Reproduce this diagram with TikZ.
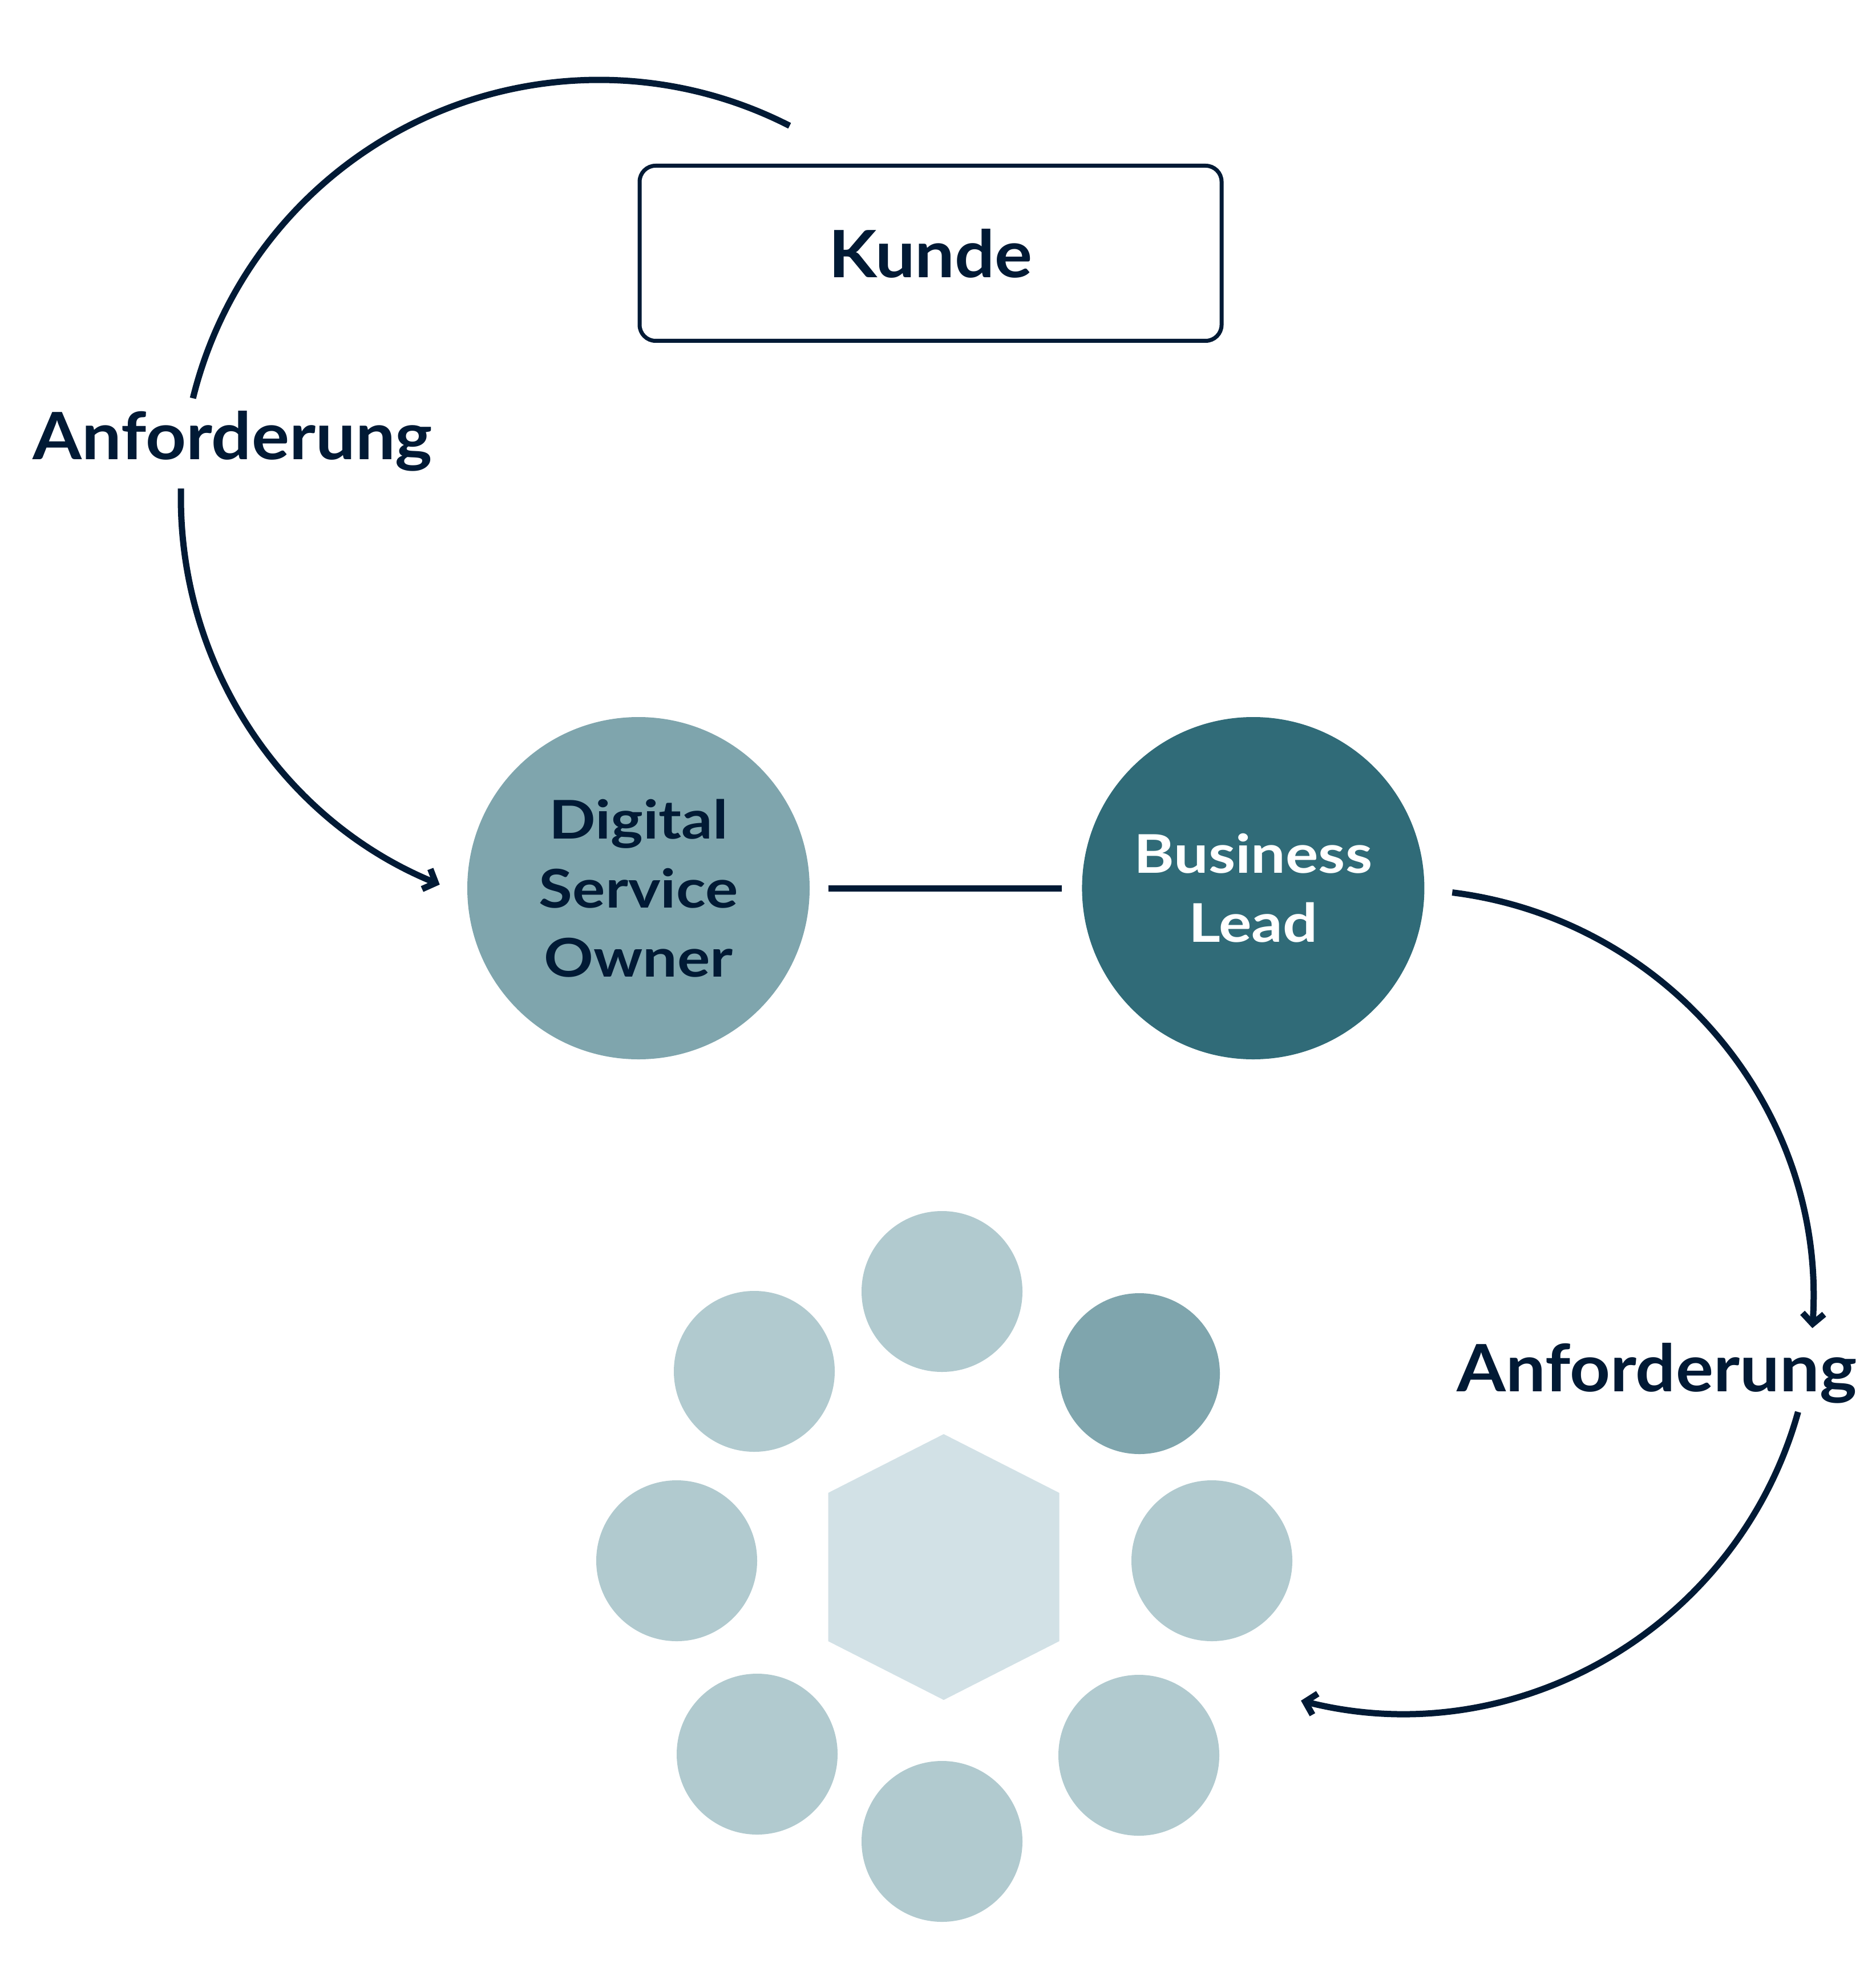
\documentclass[tikz,border=0pt]{standalone}
\usepackage{fontspec}
\setmainfont[FakeStretch=1.08]{Lato}
\newfontfamily\rolefont[FakeStretch=1.15]{Lato}
\definecolor{ink}{HTML}{011A35}
\definecolor{slate}{HTML}{7FA5AD}
\definecolor{petrol}{HTML}{306B78}
\definecolor{mist}{HTML}{B1CACF}
\definecolor{frost}{HTML}{D2E1E6}
\usetikzlibrary{arrows.meta, positioning}
\tikzset{
  box/.style={draw=ink, line width=0.7mm, rounded corners=2.8mm, fill=white, text=ink,
              minimum width=10.2cm, minimum height=3.07cm, font=\bfseries\fontsize{32.6}{39}\selectfont},
  role/.style={circle, minimum size=6cm, inner sep=0pt, align=center,
               font=\rolefont\bfseries\fontsize{26.6}{34.4}\selectfont},
  member/.style={circle, minimum size=2.82cm, inner sep=0pt},
  flow/.style={line width=1.1mm, color=ink},
  flowtip/.style={flow, -{Straight Barb[length=1.8mm, width=3.8mm]}},
  lbl/.style={font=\bfseries\fontsize{32.6}{39}\selectfont, text=ink, anchor=base},
}

\begin{document}
\begin{tikzpicture}
\useasboundingbox (0,0) rectangle (32.87,-34.85);
\node[box] (kunde) at (16.31,-4.44) {Kunde};
\node[role, fill=slate, text=ink] (dso) at (11.19,-15.57) {Digital\\Service\\Owner};
\node[role, fill=petrol, text=white, right=4.76cm of dso] (bl) {Business\\Lead};
\draw[flow, shorten <=3.2mm, shorten >=3.5mm] (dso) -- (bl);
% team around the hub
\coordinate (hub) at (16.54,-27.47);
\fill[frost, shift={(hub)}] (0,2.33) -- (2.025,1.30) -- (2.025,-1.30) -- (0,-2.33)
  -- (-2.025,-1.30) -- (-2.025,1.30) -- cycle;
\foreach \n/\x/\y/\c in {m1/16.51/-22.64/mist, m2/19.97/-24.08/slate, m3/21.24/-27.36/mist,
                         m4/19.96/-30.77/mist, m5/16.51/-32.28/mist, m6/13.27/-30.75/mist,
                         m7/11.86/-27.36/mist, m8/13.22/-24.04/mist}
  \node[member, fill=\c] (\n) at (\x,\y) {};
% requests
\coordinate (c1) at (10.50,-8.73);
\coordinate (c2) at (24.56,-22.81);
\coordinate (ask1) at ([shift={(62.9:7.33)}]c1);
\coordinate (ask2) at ([shift={(178.7:7.33)}]c1);
\coordinate (ask3) at ([shift={(82.9:7.22)}]c2);
\coordinate (ask4) at ([shift={(-15.6:7.22)}]c2);
\draw[flow] (ask1) arc[start angle=62.9, end angle=166.2, radius=7.33];
\draw[flowtip] (ask2) arc[start angle=178.7, end angle=247.6, radius=7.33];
\draw[flowtip] (ask3) arc[start angle=82.9, end angle=-3.75, radius=7.22];
\draw[flowtip] (ask4) arc[start angle=-15.6, end angle=-104.1, radius=7.22];
\node[lbl] (req1) at (4.08,-8.06) {Anforderung};
\node[lbl] (req2) at (29.04,-24.39) {Anforderung};
\end{tikzpicture}
\end{document}
